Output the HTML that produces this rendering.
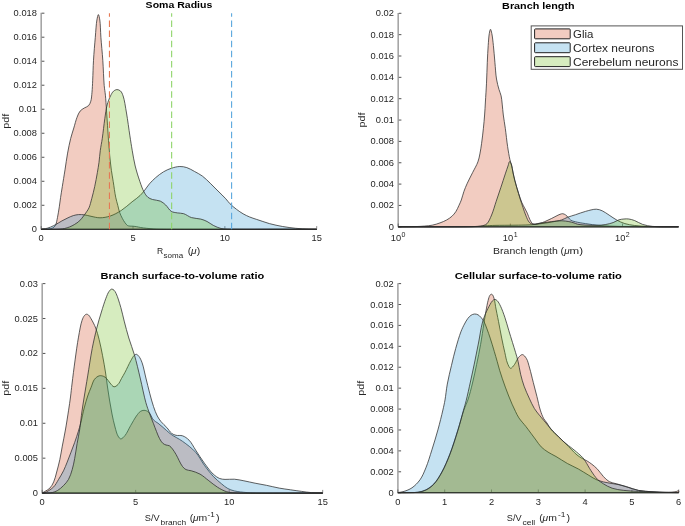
<!DOCTYPE html>
<html><head><meta charset="utf-8"><style>
html,body{margin:0;padding:0;background:#fff;}
svg{display:block;will-change:transform;}
text{font-family:"Liberation Sans", sans-serif;}
</style></head><body>
<svg width="685" height="526" viewBox="0 0 685 526">
<rect x="0" y="0" width="685" height="526" fill="#fff"/>
<path d="M41.20,12.80 L41.20,229.80" fill="none" stroke="#a6a6a6" stroke-width="1.6"/>
<path d="M41.20,229.30 L316.70,229.30" fill="none" stroke="#a6a6a6" stroke-width="0.6"/>
<path d="M41.80,229.30 h2.6" stroke="#404040" stroke-width="0.9"/>
<path d="M41.80,205.29 h2.6" stroke="#404040" stroke-width="0.9"/>
<path d="M41.80,181.28 h2.6" stroke="#404040" stroke-width="0.9"/>
<path d="M41.80,157.27 h2.6" stroke="#404040" stroke-width="0.9"/>
<path d="M41.80,133.26 h2.6" stroke="#404040" stroke-width="0.9"/>
<path d="M41.80,109.24 h2.6" stroke="#404040" stroke-width="0.9"/>
<path d="M41.80,85.23 h2.6" stroke="#404040" stroke-width="0.9"/>
<path d="M41.80,61.22 h2.6" stroke="#404040" stroke-width="0.9"/>
<path d="M41.80,37.21 h2.6" stroke="#404040" stroke-width="0.9"/>
<path d="M41.80,13.20 h2.6" stroke="#404040" stroke-width="0.9"/>
<path d="M41.20,228.70 v-2.6" stroke="#404040" stroke-width="0.6"/>
<path d="M133.03,228.70 v-2.6" stroke="#404040" stroke-width="0.6"/>
<path d="M224.87,228.70 v-2.6" stroke="#404040" stroke-width="0.6"/>
<path d="M316.70,228.70 v-2.6" stroke="#404040" stroke-width="0.6"/>
<path d="M398.20,12.90 L398.20,227.30" fill="none" stroke="#a6a6a6" stroke-width="1.6"/>
<path d="M398.20,226.80 L678.50,226.80" fill="none" stroke="#a6a6a6" stroke-width="0.6"/>
<path d="M398.80,226.80 h2.6" stroke="#404040" stroke-width="0.9"/>
<path d="M398.80,205.45 h2.6" stroke="#404040" stroke-width="0.9"/>
<path d="M398.80,184.10 h2.6" stroke="#404040" stroke-width="0.9"/>
<path d="M398.80,162.75 h2.6" stroke="#404040" stroke-width="0.9"/>
<path d="M398.80,141.40 h2.6" stroke="#404040" stroke-width="0.9"/>
<path d="M398.80,120.05 h2.6" stroke="#404040" stroke-width="0.9"/>
<path d="M398.80,98.70 h2.6" stroke="#404040" stroke-width="0.9"/>
<path d="M398.80,77.35 h2.6" stroke="#404040" stroke-width="0.9"/>
<path d="M398.80,56.00 h2.6" stroke="#404040" stroke-width="0.9"/>
<path d="M398.80,34.65 h2.6" stroke="#404040" stroke-width="0.9"/>
<path d="M398.80,13.30 h2.6" stroke="#404040" stroke-width="0.9"/>
<path d="M398.20,226.20 v-2.6" stroke="#404040" stroke-width="0.6"/>
<path d="M510.35,226.20 v-2.6" stroke="#404040" stroke-width="0.6"/>
<path d="M622.50,226.20 v-2.6" stroke="#404040" stroke-width="0.6"/>
<path d="M42.20,283.20 L42.20,493.60" fill="none" stroke="#a6a6a6" stroke-width="1.6"/>
<path d="M42.20,493.10 L322.70,493.10" fill="none" stroke="#a6a6a6" stroke-width="0.6"/>
<path d="M42.80,493.10 h2.6" stroke="#404040" stroke-width="0.9"/>
<path d="M42.80,458.18 h2.6" stroke="#404040" stroke-width="0.9"/>
<path d="M42.80,423.27 h2.6" stroke="#404040" stroke-width="0.9"/>
<path d="M42.80,388.35 h2.6" stroke="#404040" stroke-width="0.9"/>
<path d="M42.80,353.43 h2.6" stroke="#404040" stroke-width="0.9"/>
<path d="M42.80,318.52 h2.6" stroke="#404040" stroke-width="0.9"/>
<path d="M42.80,283.60 h2.6" stroke="#404040" stroke-width="0.9"/>
<path d="M42.20,492.50 v-2.6" stroke="#404040" stroke-width="0.6"/>
<path d="M135.70,492.50 v-2.6" stroke="#404040" stroke-width="0.6"/>
<path d="M229.20,492.50 v-2.6" stroke="#404040" stroke-width="0.6"/>
<path d="M322.70,492.50 v-2.6" stroke="#404040" stroke-width="0.6"/>
<path d="M397.90,283.20 L397.90,493.20" fill="none" stroke="#a6a6a6" stroke-width="1.6"/>
<path d="M397.90,492.70 L678.70,492.70" fill="none" stroke="#a6a6a6" stroke-width="0.6"/>
<path d="M398.50,492.70 h2.6" stroke="#404040" stroke-width="0.9"/>
<path d="M398.50,471.79 h2.6" stroke="#404040" stroke-width="0.9"/>
<path d="M398.50,450.88 h2.6" stroke="#404040" stroke-width="0.9"/>
<path d="M398.50,429.97 h2.6" stroke="#404040" stroke-width="0.9"/>
<path d="M398.50,409.06 h2.6" stroke="#404040" stroke-width="0.9"/>
<path d="M398.50,388.15 h2.6" stroke="#404040" stroke-width="0.9"/>
<path d="M398.50,367.24 h2.6" stroke="#404040" stroke-width="0.9"/>
<path d="M398.50,346.33 h2.6" stroke="#404040" stroke-width="0.9"/>
<path d="M398.50,325.42 h2.6" stroke="#404040" stroke-width="0.9"/>
<path d="M398.50,304.51 h2.6" stroke="#404040" stroke-width="0.9"/>
<path d="M398.50,283.60 h2.6" stroke="#404040" stroke-width="0.9"/>
<path d="M397.90,492.10 v-2.6" stroke="#404040" stroke-width="0.6"/>
<path d="M444.70,492.10 v-2.6" stroke="#404040" stroke-width="0.6"/>
<path d="M491.50,492.10 v-2.6" stroke="#404040" stroke-width="0.6"/>
<path d="M538.30,492.10 v-2.6" stroke="#404040" stroke-width="0.6"/>
<path d="M585.10,492.10 v-2.6" stroke="#404040" stroke-width="0.6"/>
<path d="M631.90,492.10 v-2.6" stroke="#404040" stroke-width="0.6"/>
<path d="M678.70,492.10 v-2.6" stroke="#404040" stroke-width="0.6"/>
<path d="M41.20,229.30 C42.57,229.27 43.85,229.29 45.30,229.20 C46.93,229.10 48.97,229.11 50.50,228.70 C51.81,228.35 53.10,227.86 54.00,227.10 C54.82,226.42 55.29,225.64 55.80,224.50 C56.57,222.77 56.97,220.01 57.50,217.40 C58.15,214.23 58.77,210.23 59.30,206.80 C59.80,203.58 60.12,200.64 60.60,197.40 C61.11,193.92 61.66,190.59 62.30,186.60 C63.09,181.64 64.12,175.48 65.00,169.90 C65.88,164.31 66.61,158.50 67.60,153.10 C68.53,148.02 69.57,142.86 70.70,138.40 C71.66,134.61 72.76,131.48 73.80,128.00 C74.86,124.48 75.80,120.43 77.00,117.40 C77.95,114.98 78.75,112.72 80.10,111.10 C81.26,109.71 82.87,108.91 84.30,108.00 C85.67,107.12 87.42,106.81 88.50,105.70 C89.61,104.56 90.23,103.02 90.80,101.20 C91.56,98.77 91.69,95.42 92.00,92.20 C92.35,88.49 92.48,84.70 92.70,80.20 C92.99,74.40 93.09,67.17 93.50,60.30 C93.94,52.91 94.69,44.42 95.30,37.30 C95.83,31.12 96.15,24.11 96.90,20.00 C97.33,17.67 97.92,14.60 98.40,14.60 C98.88,14.60 99.43,17.67 99.80,20.00 C100.46,24.11 100.45,31.13 100.90,37.30 C101.42,44.42 102.26,52.45 102.80,60.30 C103.37,68.50 103.62,79.08 104.20,85.50 C104.56,89.50 105.05,91.61 105.40,95.20 C105.84,99.65 106.15,105.19 106.50,110.20 C106.85,115.22 107.17,120.28 107.50,125.30 C107.83,130.31 108.13,135.30 108.50,140.30 C108.87,145.30 109.22,150.30 109.70,155.30 C110.18,160.33 110.76,165.77 111.40,170.40 C111.95,174.36 112.56,177.40 113.20,181.40 C113.97,186.19 114.79,192.81 115.70,197.20 C116.36,200.40 117.12,202.79 117.80,205.40 C118.42,207.80 118.83,210.11 119.60,212.30 C120.34,214.40 121.35,216.49 122.30,218.30 C123.13,219.88 123.97,221.35 124.90,222.60 C125.72,223.70 126.55,224.93 127.50,225.50 C128.28,225.96 129.12,225.98 130.00,226.10 C130.95,226.23 131.98,226.12 133.00,226.20 C134.08,226.28 135.13,226.41 136.30,226.60 C137.64,226.82 139.03,227.23 140.60,227.50 C142.47,227.82 144.67,228.06 146.80,228.30 C149.06,228.56 151.54,228.83 153.80,229.00 C155.93,229.16 156.55,229.22 160.00,229.30 C177.33,229.72 264.47,229.30 316.70,229.30 L316.70,229.30 L41.20,229.30 Z" fill="rgba(208,76,37,0.287)" stroke="#2b2b2b" stroke-width="0.75" stroke-linejoin="round"/>
<path d="M41.20,229.30 C42.57,229.10 43.87,229.02 45.30,228.70 C46.94,228.33 48.78,227.78 50.50,227.10 C52.29,226.39 53.99,225.48 55.80,224.50 C57.78,223.43 59.85,222.03 61.90,220.90 C63.92,219.79 66.02,218.71 68.00,217.80 C69.81,216.96 71.51,216.14 73.30,215.60 C75.02,215.08 76.68,214.73 78.50,214.60 C80.47,214.46 82.64,214.62 84.70,214.90 C86.80,215.18 88.71,215.85 91.00,216.30 C93.73,216.83 96.90,217.81 100.00,217.80 C103.32,217.79 106.90,217.13 110.30,216.00 C113.97,214.78 117.68,212.76 121.20,210.50 C124.96,208.09 128.75,204.45 132.10,201.80 C134.94,199.55 137.79,197.70 140.00,195.60 C141.87,193.83 143.17,192.10 144.70,190.20 C146.31,188.21 147.64,185.93 149.40,183.90 C151.26,181.76 153.34,179.65 155.60,177.70 C157.98,175.64 160.71,173.49 163.40,171.90 C165.92,170.40 168.48,169.20 171.20,168.30 C173.95,167.39 177.07,166.57 179.80,166.50 C182.25,166.44 184.46,166.85 186.80,167.60 C189.39,168.43 192.02,170.10 194.60,171.50 C197.22,172.93 199.89,174.25 202.40,176.10 C205.11,178.10 207.63,180.75 210.20,183.20 C212.83,185.71 215.40,188.40 218.00,191.00 C220.60,193.60 223.64,196.45 225.80,198.80 C227.46,200.61 228.36,202.15 230.00,203.80 C231.89,205.69 234.36,207.70 236.60,209.40 C238.73,211.02 240.88,212.52 243.10,213.80 C245.25,215.04 247.47,216.08 249.70,217.00 C251.87,217.90 254.10,218.55 256.30,219.30 C258.50,220.05 260.71,220.78 262.90,221.50 C265.07,222.21 267.21,222.98 269.40,223.60 C271.58,224.22 273.79,224.72 276.00,225.20 C278.19,225.68 280.40,226.12 282.60,226.50 C284.77,226.88 286.92,227.20 289.10,227.50 C291.29,227.80 293.50,228.08 295.70,228.30 C297.90,228.52 300.11,228.67 302.30,228.80 C304.47,228.93 306.53,229.03 308.80,229.10 C311.30,229.17 314.07,229.17 316.70,229.20 L316.70,229.30 L41.20,229.30 Z" fill="rgba(29,140,205,0.254)" stroke="#2b2b2b" stroke-width="0.75" stroke-linejoin="round"/>
<path d="M41.20,229.30 C44.13,229.30 47.35,229.30 50.00,229.30 C52.19,229.30 54.20,229.34 56.00,229.30 C57.47,229.26 58.63,229.23 60.00,229.10 C61.46,228.97 62.96,228.84 64.50,228.50 C66.19,228.13 68.05,227.56 69.70,226.90 C71.31,226.26 72.84,225.43 74.30,224.60 C75.70,223.80 77.09,222.99 78.30,222.00 C79.49,221.02 80.51,219.85 81.50,218.70 C82.47,217.58 83.34,216.37 84.20,215.20 C85.04,214.07 85.82,212.99 86.60,211.80 C87.42,210.54 88.26,209.47 89.00,207.80 C90.07,205.38 90.90,201.72 91.80,198.40 C92.80,194.70 93.80,190.73 94.70,186.60 C95.68,182.10 96.64,176.74 97.40,172.40 C98.04,168.75 98.53,165.82 99.00,162.30 C99.51,158.48 99.75,154.29 100.30,150.30 C100.85,146.29 101.64,142.80 102.30,138.30 C103.14,132.57 103.92,124.64 104.80,118.70 C105.54,113.72 106.01,109.06 107.10,105.00 C108.01,101.61 109.26,98.38 110.50,95.90 C111.44,94.02 112.28,92.26 113.50,91.20 C114.51,90.32 115.83,89.63 117.00,89.60 C118.16,89.57 119.54,90.14 120.50,91.00 C121.67,92.05 122.32,93.70 123.10,95.90 C124.49,99.81 125.44,106.87 126.50,113.00 C127.73,120.06 128.86,129.15 129.90,135.90 C130.73,141.26 131.34,145.40 132.20,150.30 C133.10,155.43 133.93,160.81 135.20,166.00 C136.49,171.24 138.30,176.99 139.90,181.60 C141.21,185.36 142.39,188.91 143.90,191.70 C145.09,193.89 146.25,195.88 147.80,197.20 C149.17,198.36 150.69,198.88 152.50,199.50 C154.73,200.26 158.03,200.10 160.30,201.10 C162.38,202.01 163.98,203.43 165.70,205.00 C167.63,206.76 169.08,209.99 171.20,211.30 C173.05,212.44 175.31,212.50 177.40,212.90 C179.48,213.30 181.55,213.05 183.70,213.70 C186.22,214.47 188.71,216.70 191.50,217.60 C194.40,218.53 198.03,218.36 200.80,219.10 C203.14,219.73 205.06,220.48 207.10,221.50 C209.23,222.56 211.06,224.26 213.30,225.40 C215.70,226.62 218.60,227.90 221.10,228.50 C223.27,229.02 224.94,228.96 227.40,229.10 C230.88,229.29 234.02,229.25 240.00,229.30 C254.75,229.42 291.13,229.30 316.70,229.30 L316.70,229.30 L41.20,229.30 Z" fill="rgba(90,179,0,0.251)" stroke="#2b2b2b" stroke-width="0.75" stroke-linejoin="round"/>
<path d="M109.45,229.30 L109.45,13.20" stroke="#e57a55" stroke-width="1.1" stroke-dasharray="6.5 3.62" fill="none"/>
<path d="M171.65,229.30 L171.65,13.20" stroke="#8fd46a" stroke-width="1.1" stroke-dasharray="6.5 3.62" fill="none"/>
<path d="M231.60,229.30 L231.60,13.20" stroke="#5aa8de" stroke-width="1.1" stroke-dasharray="6.5 3.62" fill="none"/>
<text transform="translate(36.90,232.34) scale(1.0827,1)" font-size="8.60" text-anchor="end" fill="#262626">0</text>
<text transform="translate(36.90,208.33) scale(1.0827,1)" font-size="8.60" text-anchor="end" fill="#262626">0.002</text>
<text transform="translate(36.90,184.32) scale(1.0827,1)" font-size="8.60" text-anchor="end" fill="#262626">0.004</text>
<text transform="translate(36.90,160.31) scale(1.0827,1)" font-size="8.60" text-anchor="end" fill="#262626">0.006</text>
<text transform="translate(36.90,136.30) scale(1.0827,1)" font-size="8.60" text-anchor="end" fill="#262626">0.008</text>
<text transform="translate(36.90,112.29) scale(1.0827,1)" font-size="8.60" text-anchor="end" fill="#262626">0.01</text>
<text transform="translate(36.90,88.28) scale(1.0827,1)" font-size="8.60" text-anchor="end" fill="#262626">0.012</text>
<text transform="translate(36.90,64.27) scale(1.0827,1)" font-size="8.60" text-anchor="end" fill="#262626">0.014</text>
<text transform="translate(36.90,40.26) scale(1.0827,1)" font-size="8.60" text-anchor="end" fill="#262626">0.016</text>
<text transform="translate(36.90,16.24) scale(1.0827,1)" font-size="8.60" text-anchor="end" fill="#262626">0.018</text>
<text transform="translate(41.20,241.30) scale(1.0827,1)" font-size="8.60" text-anchor="middle" fill="#262626">0</text>
<text transform="translate(133.03,241.30) scale(1.0827,1)" font-size="8.60" text-anchor="middle" fill="#262626">5</text>
<text transform="translate(224.87,241.30) scale(1.0827,1)" font-size="8.60" text-anchor="middle" fill="#262626">10</text>
<text transform="translate(316.70,241.30) scale(1.0827,1)" font-size="8.60" text-anchor="middle" fill="#262626">15</text>
<text transform="translate(178.95,8.40)" font-size="9.80" text-anchor="middle" font-weight="bold" fill="#000" textLength="66.70" lengthAdjust="spacingAndGlyphs">Soma Radius</text>
<text transform="translate(8.90,121.25) rotate(-90)" font-size="9.60" text-anchor="middle" fill="#262626" textLength="15.00" lengthAdjust="spacingAndGlyphs">pdf</text>
<text transform="translate(157.00,253.60)" font-size="9.60" text-anchor="start" fill="#262626" textLength="6.20" lengthAdjust="spacingAndGlyphs">R</text>
<text transform="translate(163.60,257.90)" font-size="7.80" text-anchor="start" fill="#262626" textLength="19.60" lengthAdjust="spacingAndGlyphs">soma</text>
<text transform="translate(187.80,253.60)" font-size="9.60" text-anchor="start" fill="#262626" textLength="3.50" lengthAdjust="spacingAndGlyphs">(</text>
<text transform="translate(191.00,253.60)" font-size="9.60" text-anchor="start" font-style="italic" fill="#262626" textLength="5.60" lengthAdjust="spacingAndGlyphs">μ</text>
<text transform="translate(196.70,253.60)" font-size="9.60" text-anchor="start" fill="#262626" textLength="3.50" lengthAdjust="spacingAndGlyphs">)</text>
<path d="M398.20,226.80 C403.80,226.73 410.22,226.76 415.00,226.60 C418.56,226.48 421.33,226.35 424.30,226.10 C427.04,225.87 429.60,225.73 432.20,225.20 C434.83,224.67 437.54,223.80 440.00,222.90 C442.32,222.05 444.57,221.14 446.60,220.00 C448.52,218.92 450.35,217.71 451.90,216.30 C453.40,214.93 454.66,213.42 455.80,211.70 C457.02,209.85 457.96,207.52 458.90,205.50 C459.78,203.62 460.54,202.06 461.30,200.00 C462.23,197.50 462.90,194.29 463.90,191.50 C464.90,188.69 465.98,186.11 467.30,183.20 C468.82,179.86 470.84,176.14 472.60,172.60 C474.37,169.04 476.66,165.27 477.90,161.90 C478.93,159.10 479.31,156.77 479.90,153.90 C480.57,150.63 481.06,147.15 481.60,143.30 C482.24,138.74 482.89,133.15 483.40,128.30 C483.88,123.74 484.27,119.41 484.60,115.00 C484.93,110.64 485.12,106.73 485.40,102.00 C485.74,96.31 486.19,89.63 486.50,83.20 C486.83,76.42 487.00,68.88 487.30,62.30 C487.57,56.42 487.83,50.72 488.20,45.60 C488.52,41.24 488.75,36.47 489.30,33.50 C489.63,31.72 490.08,29.30 490.50,29.30 C490.92,29.30 491.41,31.72 491.80,33.50 C492.45,36.47 492.92,41.24 493.40,45.60 C493.97,50.71 494.38,56.73 494.90,62.30 C495.42,67.87 495.69,74.10 496.50,79.00 C497.15,82.93 498.13,86.46 499.00,89.50 C499.68,91.88 500.58,93.53 501.10,95.80 C501.69,98.35 501.85,101.14 502.20,104.10 C502.59,107.48 502.82,111.19 503.30,115.00 C503.83,119.22 504.64,123.52 505.30,128.30 C506.07,133.89 506.76,140.95 507.60,146.50 C508.31,151.21 509.11,156.10 509.90,159.50 C510.42,161.74 510.93,162.70 511.50,165.00 C512.43,168.76 513.38,175.18 514.60,180.00 C515.76,184.59 517.30,189.29 518.60,193.30 C519.69,196.66 520.67,199.87 521.80,202.50 C522.69,204.58 523.68,206.11 524.60,207.90 C525.51,209.67 526.44,211.31 527.30,213.20 C528.25,215.28 528.99,218.04 530.00,219.90 C530.80,221.37 531.57,222.94 532.60,223.60 C533.40,224.11 534.33,224.11 535.30,224.10 C536.44,224.08 537.78,223.57 539.00,223.30 C540.18,223.04 541.28,222.89 542.50,222.50 C543.93,222.04 545.52,221.26 547.00,220.60 C548.46,219.95 549.84,219.31 551.30,218.60 C552.84,217.85 554.49,216.94 556.00,216.20 C557.38,215.52 558.78,214.72 560.00,214.30 C560.97,213.97 561.80,213.62 562.70,213.70 C563.66,213.78 564.69,214.31 565.60,214.90 C566.61,215.56 567.52,216.70 568.40,217.60 C569.24,218.46 569.75,219.52 570.80,220.20 C572.05,221.01 573.69,221.31 575.60,221.80 C578.29,222.49 581.88,223.03 585.50,223.60 C589.87,224.28 594.77,225.04 600.00,225.50 C606.12,226.04 613.33,226.18 620.00,226.40 C626.67,226.62 632.25,226.72 640.00,226.80 C650.75,226.91 665.67,226.80 678.50,226.80 L678.50,226.80 L398.20,226.80 Z" fill="rgba(208,76,37,0.287)" stroke="#2b2b2b" stroke-width="0.75" stroke-linejoin="round"/>
<path d="M398.20,226.80 C418.80,226.80 446.40,226.94 460.00,226.80 C466.70,226.73 470.51,226.70 475.00,226.50 C478.67,226.33 481.67,225.98 485.00,225.80 C488.33,225.62 491.09,225.50 495.00,225.40 C500.52,225.26 509.05,225.30 515.00,225.20 C519.80,225.12 524.33,225.07 528.00,224.90 C530.69,224.77 532.59,224.64 535.00,224.40 C537.58,224.15 540.34,223.77 543.00,223.40 C545.67,223.03 548.53,222.63 551.00,222.20 C553.15,221.82 555.11,221.40 557.00,221.00 C558.69,220.64 560.16,220.46 561.80,219.90 C563.65,219.27 565.41,218.11 567.50,217.30 C569.94,216.36 572.77,215.63 575.60,214.70 C578.74,213.67 582.10,212.31 585.50,211.40 C588.99,210.47 593.25,209.10 596.30,209.20 C598.57,209.27 600.22,209.94 602.20,210.80 C604.48,211.80 606.73,213.60 609.10,215.10 C611.65,216.72 614.31,218.76 617.00,220.20 C619.58,221.57 622.07,222.73 624.90,223.60 C627.94,224.54 631.14,225.03 634.70,225.50 C638.89,226.06 644.11,226.28 648.50,226.50 C652.51,226.70 655.71,226.74 660.00,226.80 C665.44,226.87 672.33,226.80 678.50,226.80 L678.50,226.80 L398.20,226.80 Z" fill="rgba(29,140,205,0.254)" stroke="#2b2b2b" stroke-width="0.75" stroke-linejoin="round"/>
<path d="M398.20,226.80 C418.80,226.80 447.05,226.85 460.00,226.80 C465.94,226.78 469.30,226.82 473.00,226.70 C475.75,226.61 478.19,226.62 480.20,226.30 C481.68,226.07 482.82,225.77 484.00,225.30 C485.12,224.86 486.11,224.60 487.10,223.60 C488.73,221.94 490.21,218.26 491.60,215.00 C493.30,211.02 494.67,205.87 496.20,201.30 C497.73,196.73 499.28,192.17 500.80,187.60 C502.32,183.04 503.98,177.84 505.30,173.90 C506.30,170.90 507.21,168.25 508.00,166.00 C508.59,164.32 508.98,161.67 509.60,161.60 C510.08,161.54 510.72,162.87 511.20,164.00 C512.09,166.13 512.47,170.34 513.30,173.90 C514.28,178.11 515.60,183.25 516.80,187.60 C517.90,191.59 519.10,195.49 520.20,199.00 C521.16,202.05 522.03,204.68 523.00,207.50 C523.97,210.31 524.88,213.32 526.00,215.90 C527.00,218.21 527.92,220.88 529.30,222.30 C530.34,223.37 531.37,224.02 532.90,224.30 C535.19,224.72 538.95,223.45 542.00,223.00 C545.08,222.55 548.10,221.96 551.30,221.60 C554.69,221.22 558.66,220.74 561.80,220.80 C564.37,220.85 566.65,221.21 568.80,221.60 C570.67,221.94 572.45,222.42 574.00,222.90 C575.29,223.30 576.09,223.86 577.50,224.20 C579.51,224.69 582.20,224.91 585.00,225.10 C588.53,225.34 593.38,225.42 597.00,225.30 C600.00,225.20 602.51,225.05 605.20,224.60 C607.88,224.15 610.70,223.47 613.10,222.60 C615.25,221.83 617.07,220.40 619.00,219.80 C620.70,219.27 622.35,219.13 624.00,219.00 C625.61,218.87 627.13,218.78 628.80,219.00 C630.68,219.25 632.63,219.83 634.70,220.60 C637.18,221.52 639.75,223.44 642.60,224.40 C645.65,225.43 648.99,225.99 652.50,226.40 C656.41,226.85 660.75,226.73 665.00,226.80 C669.41,226.87 674.00,226.80 678.50,226.80 L678.50,226.80 L398.20,226.80 Z" fill="rgba(90,179,0,0.251)" stroke="#2b2b2b" stroke-width="0.75" stroke-linejoin="round"/>
<text transform="translate(393.90,229.84) scale(1.0827,1)" font-size="8.60" text-anchor="end" fill="#262626">0</text>
<text transform="translate(393.90,208.49) scale(1.0827,1)" font-size="8.60" text-anchor="end" fill="#262626">0.002</text>
<text transform="translate(393.90,187.14) scale(1.0827,1)" font-size="8.60" text-anchor="end" fill="#262626">0.004</text>
<text transform="translate(393.90,165.79) scale(1.0827,1)" font-size="8.60" text-anchor="end" fill="#262626">0.006</text>
<text transform="translate(393.90,144.44) scale(1.0827,1)" font-size="8.60" text-anchor="end" fill="#262626">0.008</text>
<text transform="translate(393.90,123.09) scale(1.0827,1)" font-size="8.60" text-anchor="end" fill="#262626">0.01</text>
<text transform="translate(393.90,101.74) scale(1.0827,1)" font-size="8.60" text-anchor="end" fill="#262626">0.012</text>
<text transform="translate(393.90,80.39) scale(1.0827,1)" font-size="8.60" text-anchor="end" fill="#262626">0.014</text>
<text transform="translate(393.90,59.04) scale(1.0827,1)" font-size="8.60" text-anchor="end" fill="#262626">0.016</text>
<text transform="translate(393.90,37.69) scale(1.0827,1)" font-size="8.60" text-anchor="end" fill="#262626">0.018</text>
<text transform="translate(393.90,16.34) scale(1.0827,1)" font-size="8.60" text-anchor="end" fill="#262626">0.02</text>
<text transform="translate(538.35,8.50)" font-size="9.80" text-anchor="middle" font-weight="bold" fill="#000" textLength="72.50" lengthAdjust="spacingAndGlyphs">Branch length</text>
<text transform="translate(364.70,120.05) rotate(-90)" font-size="9.60" text-anchor="middle" fill="#262626" textLength="15.00" lengthAdjust="spacingAndGlyphs">pdf</text>
<text transform="translate(395.90,241.00) scale(1.0827,1)" font-size="8.60" text-anchor="middle" fill="#262626">10</text>
<text transform="translate(403.50,237.00) scale(1.0827,1)" font-size="6.50" text-anchor="middle" fill="#262626">0</text>
<text transform="translate(508.05,241.00) scale(1.0827,1)" font-size="8.60" text-anchor="middle" fill="#262626">10</text>
<text transform="translate(515.65,237.00) scale(1.0827,1)" font-size="6.50" text-anchor="middle" fill="#262626">1</text>
<text transform="translate(620.20,241.00) scale(1.0827,1)" font-size="8.60" text-anchor="middle" fill="#262626">10</text>
<text transform="translate(627.80,237.00) scale(1.0827,1)" font-size="6.50" text-anchor="middle" fill="#262626">2</text>
<text transform="translate(493.10,253.80)" font-size="9.60" text-anchor="start" fill="#262626" textLength="71.00" lengthAdjust="spacingAndGlyphs">Branch length (</text>
<text transform="translate(564.30,253.80)" font-size="9.60" text-anchor="start" font-style="italic" fill="#262626" textLength="5.40" lengthAdjust="spacingAndGlyphs">μ</text>
<text transform="translate(569.60,253.80)" font-size="9.60" text-anchor="start" fill="#262626" textLength="13.50" lengthAdjust="spacingAndGlyphs">m)</text>
<rect x="531.2" y="25.9" width="151.3" height="43.4" fill="#fff" stroke="#555" stroke-width="1"/>
<rect x="534.6" y="28.90" width="35.6" height="9.9" rx="0.8" fill="rgba(208,76,37,0.287)" stroke="#222" stroke-width="1"/>
<text transform="translate(573.00,38.00)" font-size="11.20" text-anchor="start" fill="#262626" textLength="20.40" lengthAdjust="spacingAndGlyphs">Glia</text>
<rect x="534.6" y="42.80" width="35.6" height="9.9" rx="0.8" fill="rgba(29,140,205,0.254)" stroke="#222" stroke-width="1"/>
<text transform="translate(573.00,51.90)" font-size="11.20" text-anchor="start" fill="#262626" textLength="81.40" lengthAdjust="spacingAndGlyphs">Cortex neurons</text>
<rect x="534.6" y="56.70" width="35.6" height="9.9" rx="0.8" fill="rgba(90,179,0,0.251)" stroke="#222" stroke-width="1"/>
<text transform="translate(573.00,65.80)" font-size="11.20" text-anchor="start" fill="#262626" textLength="105.40" lengthAdjust="spacingAndGlyphs">Cerebelum neurons</text>
<path d="M42.20,493.00 C43.13,492.47 43.95,492.05 45.00,491.40 C46.42,490.52 48.50,489.56 49.90,488.10 C51.45,486.48 52.63,484.29 53.70,481.90 C54.98,479.05 55.73,475.49 56.70,472.00 C57.77,468.13 58.88,463.92 59.80,459.70 C60.76,455.30 61.41,450.82 62.30,446.10 C63.27,440.96 64.40,435.65 65.40,430.00 C66.51,423.75 67.69,416.14 68.60,410.20 C69.34,405.36 69.93,401.39 70.50,397.00 C71.06,392.65 71.39,388.99 72.00,384.00 C72.83,377.19 74.00,367.82 75.10,359.90 C76.17,352.19 77.24,344.08 78.50,337.10 C79.58,331.11 80.65,324.36 82.00,320.50 C82.77,318.28 83.55,316.56 84.50,315.50 C85.12,314.81 85.82,314.27 86.50,314.20 C87.15,314.14 87.86,314.49 88.50,315.00 C89.43,315.75 90.17,317.22 91.10,318.80 C92.49,321.16 94.40,324.71 95.70,328.00 C97.10,331.54 98.04,335.26 99.10,339.40 C100.34,344.24 101.44,349.85 102.50,355.30 C103.61,361.03 104.74,367.44 105.60,373.00 C106.37,377.93 106.84,382.42 107.50,387.00 C108.14,391.42 108.77,395.59 109.50,400.00 C110.26,404.58 111.07,409.43 112.00,414.00 C112.91,418.43 113.90,423.09 115.00,427.00 C115.93,430.30 116.74,433.92 118.00,436.00 C118.82,437.36 119.74,438.83 120.80,438.90 C122.03,438.98 123.64,437.10 125.00,435.50 C126.99,433.16 128.78,428.78 130.70,425.50 C132.58,422.28 134.57,418.52 136.40,416.00 C137.74,414.15 138.88,412.44 140.30,411.50 C141.45,410.74 142.69,410.26 144.00,410.30 C145.50,410.35 147.38,411.00 148.80,412.20 C150.69,413.80 151.73,418.09 153.50,420.00 C154.88,421.49 156.56,422.10 158.00,423.20 C159.39,424.27 160.64,425.33 162.00,426.50 C163.47,427.76 164.94,429.17 166.50,430.50 C168.13,431.90 169.52,433.22 171.60,434.70 C174.49,436.75 178.80,438.66 182.50,441.30 C186.78,444.35 191.91,448.11 195.60,452.20 C199.16,456.14 201.38,461.18 204.40,465.30 C207.25,469.19 210.19,473.10 213.20,476.30 C215.87,479.13 218.79,481.55 221.40,483.70 C223.62,485.53 225.57,487.28 227.80,488.50 C229.88,489.63 231.73,490.26 234.30,490.90 C237.81,491.77 242.82,492.25 247.10,492.60 C251.38,492.95 254.08,492.90 260.00,493.00 C273.04,493.21 301.80,493.07 322.70,493.10 L322.70,493.10 L42.20,493.10 Z" fill="rgba(208,76,37,0.287)" stroke="#2b2b2b" stroke-width="0.75" stroke-linejoin="round"/>
<path d="M42.20,493.00 C43.13,492.87 44.03,492.92 45.00,492.60 C46.18,492.21 47.40,491.42 48.70,490.60 C50.28,489.60 52.17,488.52 53.70,486.90 C55.53,484.96 57.01,482.01 58.60,479.40 C60.28,476.66 62.05,473.72 63.50,470.80 C64.91,467.95 65.98,465.10 67.20,462.10 C68.49,458.92 69.75,455.49 71.00,452.20 C72.25,448.93 73.50,445.79 74.70,442.40 C75.97,438.80 77.35,434.59 78.40,431.20 C79.26,428.40 79.82,426.52 80.60,423.50 C81.70,419.24 82.94,412.82 84.20,408.00 C85.32,403.73 86.46,399.65 87.70,396.00 C88.78,392.84 89.95,390.13 91.10,387.30 C92.21,384.57 92.93,381.28 94.50,379.30 C95.80,377.66 97.67,376.23 99.30,375.80 C100.68,375.44 102.26,375.82 103.50,376.30 C104.68,376.75 105.61,377.54 106.60,378.50 C107.80,379.67 108.76,381.61 110.00,383.00 C111.23,384.37 112.60,386.63 114.00,386.80 C115.28,386.95 116.84,385.65 118.00,384.50 C119.43,383.08 120.34,380.52 121.50,378.50 C122.67,376.45 123.72,374.70 125.00,372.30 C126.71,369.09 128.94,363.99 130.70,360.90 C131.97,358.66 133.11,356.35 134.30,355.30 C135.00,354.68 135.69,354.21 136.40,354.30 C137.26,354.41 138.19,355.47 139.00,356.50 C140.16,357.98 141.14,360.18 142.10,362.80 C143.53,366.71 144.63,372.93 145.90,378.00 C147.17,383.07 148.39,388.31 149.70,393.20 C150.93,397.79 152.12,402.47 153.50,406.50 C154.68,409.97 155.88,413.30 157.30,416.00 C158.46,418.21 159.60,419.86 161.10,421.70 C162.73,423.70 165.02,425.53 166.80,427.50 C168.51,429.40 169.87,431.98 171.60,433.30 C172.98,434.36 174.35,434.88 176.00,435.30 C177.92,435.79 180.42,435.08 182.50,435.80 C184.80,436.59 187.09,438.18 189.10,440.20 C191.55,442.65 193.27,446.49 195.60,450.00 C198.31,454.07 201.37,459.08 204.40,463.20 C207.25,467.08 210.29,471.42 213.20,474.10 C215.38,476.10 217.55,477.64 219.70,478.50 C221.48,479.21 222.98,479.25 225.00,479.40 C227.66,479.60 231.19,478.98 234.30,479.20 C237.49,479.43 240.58,480.17 243.90,480.80 C247.50,481.48 251.35,482.45 255.10,483.20 C258.85,483.95 262.52,484.52 266.40,485.30 C270.54,486.14 275.05,487.34 279.20,488.10 C283.07,488.81 286.74,489.25 290.50,489.80 C294.24,490.35 298.10,490.92 301.70,491.40 C305.05,491.85 308.04,492.35 311.40,492.60 C315.02,492.87 318.93,492.80 322.70,492.90 L322.70,493.10 L42.20,493.10 Z" fill="rgba(29,140,205,0.254)" stroke="#2b2b2b" stroke-width="0.75" stroke-linejoin="round"/>
<path d="M42.20,493.10 C44.13,493.07 46.20,493.12 48.00,493.00 C49.57,492.90 50.91,492.86 52.40,492.50 C54.04,492.10 55.73,491.57 57.40,490.60 C59.43,489.43 61.65,487.46 63.50,485.60 C65.36,483.73 67.11,481.83 68.50,479.40 C70.10,476.61 71.18,473.01 72.20,469.60 C73.27,466.03 73.93,462.41 74.70,458.40 C75.58,453.82 76.27,448.42 77.10,443.60 C77.90,438.97 78.84,434.92 79.60,430.00 C80.50,424.21 81.17,416.84 82.00,411.00 C82.71,405.97 83.37,402.14 84.20,397.00 C85.22,390.68 86.46,383.39 87.70,375.90 C89.11,367.36 90.56,356.95 92.20,348.50 C93.63,341.15 95.17,334.39 96.80,328.00 C98.25,322.31 99.83,317.11 101.40,312.00 C102.86,307.24 104.44,302.04 105.90,298.30 C106.95,295.61 107.83,293.11 109.00,291.50 C109.80,290.39 110.70,289.24 111.60,289.10 C112.38,288.98 113.30,289.58 114.00,290.20 C114.88,290.97 115.44,292.09 116.20,293.70 C117.63,296.71 119.46,302.81 120.80,307.40 C122.12,311.94 122.95,316.30 124.20,321.10 C125.59,326.45 127.10,332.36 128.80,338.00 C130.53,343.73 132.71,349.03 134.50,355.20 C136.54,362.23 138.33,370.24 140.20,378.00 C142.14,386.06 144.03,396.11 145.90,402.70 C147.18,407.20 148.39,410.30 149.70,413.90 C150.93,417.29 152.31,420.62 153.50,423.70 C154.56,426.45 155.48,428.98 156.50,431.50 C157.48,433.91 158.36,436.44 159.50,438.50 C160.49,440.31 161.56,442.19 162.80,443.30 C163.78,444.17 164.89,444.58 166.00,445.00 C167.09,445.41 168.37,445.22 169.40,445.80 C170.56,446.46 171.50,447.74 172.50,449.00 C173.71,450.52 174.70,452.21 176.00,454.40 C177.89,457.60 180.44,463.90 182.50,466.50 C183.70,468.02 184.61,468.89 186.00,469.60 C187.50,470.37 189.34,470.21 191.30,470.80 C193.87,471.57 197.20,472.56 200.00,474.10 C203.05,475.78 205.87,478.51 208.80,480.70 C211.71,482.88 214.51,485.35 217.50,487.20 C220.35,488.96 223.30,490.65 226.30,491.60 C229.14,492.50 230.57,492.57 235.00,492.90 C248.99,493.96 293.47,493.03 322.70,493.10 L322.70,493.10 L42.20,493.10 Z" fill="rgba(90,179,0,0.251)" stroke="#2b2b2b" stroke-width="0.75" stroke-linejoin="round"/>
<text transform="translate(37.90,496.14) scale(1.0827,1)" font-size="8.60" text-anchor="end" fill="#262626">0</text>
<text transform="translate(37.90,461.23) scale(1.0827,1)" font-size="8.60" text-anchor="end" fill="#262626">0.005</text>
<text transform="translate(37.90,426.31) scale(1.0827,1)" font-size="8.60" text-anchor="end" fill="#262626">0.01</text>
<text transform="translate(37.90,391.39) scale(1.0827,1)" font-size="8.60" text-anchor="end" fill="#262626">0.015</text>
<text transform="translate(37.90,356.48) scale(1.0827,1)" font-size="8.60" text-anchor="end" fill="#262626">0.02</text>
<text transform="translate(37.90,321.56) scale(1.0827,1)" font-size="8.60" text-anchor="end" fill="#262626">0.025</text>
<text transform="translate(37.90,286.64) scale(1.0827,1)" font-size="8.60" text-anchor="end" fill="#262626">0.03</text>
<text transform="translate(42.20,505.10) scale(1.0827,1)" font-size="8.60" text-anchor="middle" fill="#262626">0</text>
<text transform="translate(135.70,505.10) scale(1.0827,1)" font-size="8.60" text-anchor="middle" fill="#262626">5</text>
<text transform="translate(229.20,505.10) scale(1.0827,1)" font-size="8.60" text-anchor="middle" fill="#262626">10</text>
<text transform="translate(322.70,505.10) scale(1.0827,1)" font-size="8.60" text-anchor="middle" fill="#262626">15</text>
<text transform="translate(182.45,278.80)" font-size="9.80" text-anchor="middle" font-weight="bold" fill="#000" textLength="163.70" lengthAdjust="spacingAndGlyphs">Branch surface-to-volume ratio</text>
<text transform="translate(8.70,388.35) rotate(-90)" font-size="9.60" text-anchor="middle" fill="#262626" textLength="15.00" lengthAdjust="spacingAndGlyphs">pdf</text>
<text transform="translate(144.80,520.70)" font-size="9.60" text-anchor="start" fill="#262626" textLength="14.80" lengthAdjust="spacingAndGlyphs">S/V</text>
<text transform="translate(160.50,524.70)" font-size="7.80" text-anchor="start" fill="#262626" textLength="25.60" lengthAdjust="spacingAndGlyphs">branch</text>
<text transform="translate(189.70,520.70)" font-size="9.60" text-anchor="start" fill="#262626" textLength="3.50" lengthAdjust="spacingAndGlyphs">(</text>
<text transform="translate(193.00,520.70)" font-size="9.60" text-anchor="start" font-style="italic" fill="#262626" textLength="5.60" lengthAdjust="spacingAndGlyphs">μ</text>
<text transform="translate(198.60,520.70)" font-size="9.60" text-anchor="start" fill="#262626" textLength="8.70" lengthAdjust="spacingAndGlyphs">m</text>
<text transform="translate(207.60,517.20)" font-size="7.80" text-anchor="start" fill="#262626" textLength="7.30" lengthAdjust="spacingAndGlyphs">-1</text>
<text transform="translate(215.90,520.70)" font-size="9.60" text-anchor="start" fill="#262626" textLength="3.60" lengthAdjust="spacingAndGlyphs">)</text>
<path d="M397.90,492.70 C401.93,492.67 406.38,492.71 410.00,492.60 C412.94,492.51 415.37,492.66 418.00,492.20 C420.67,491.73 423.37,491.08 425.90,489.80 C428.69,488.39 431.44,486.40 433.90,483.80 C436.86,480.67 439.41,476.32 441.90,471.80 C444.80,466.53 447.38,460.37 449.90,453.90 C452.76,446.55 455.47,437.54 457.90,429.90 C460.10,422.97 461.96,415.62 463.90,410.00 C465.37,405.76 466.87,403.05 468.20,399.00 C469.78,394.20 471.14,388.54 472.50,383.00 C473.95,377.07 475.27,370.80 476.60,364.50 C477.98,357.95 479.39,351.18 480.60,344.40 C481.83,337.51 482.91,329.59 483.90,323.50 C484.67,318.77 485.26,314.89 486.00,310.90 C486.67,307.26 487.34,303.32 488.10,300.50 C488.64,298.51 489.10,296.58 489.80,295.50 C490.22,294.85 490.72,294.28 491.20,294.20 C491.62,294.13 492.14,294.45 492.50,294.80 C492.95,295.24 493.19,296.02 493.50,296.80 C493.91,297.83 494.28,299.10 494.60,300.50 C495.01,302.29 495.15,304.20 495.60,306.70 C496.29,310.56 497.52,316.34 498.50,321.40 C499.55,326.79 500.61,332.76 501.70,338.10 C502.71,343.06 503.78,348.00 504.80,352.40 C505.68,356.20 506.22,360.14 507.40,363.00 C508.29,365.15 509.37,368.14 510.60,368.30 C511.75,368.45 513.29,366.06 514.50,364.50 C515.97,362.60 516.97,359.22 518.50,357.50 C519.68,356.16 521.13,354.52 522.40,354.60 C523.76,354.69 525.30,356.75 526.40,358.50 C527.88,360.85 528.56,364.48 529.60,368.00 C530.87,372.30 532.07,377.72 533.30,382.50 C534.50,387.18 535.73,391.78 536.90,396.40 C538.06,400.98 539.01,406.11 540.30,410.10 C541.33,413.31 542.41,416.30 543.70,418.60 C544.70,420.39 545.89,421.36 547.00,423.00 C548.31,424.93 549.28,427.38 551.00,429.50 C553.03,432.00 556.27,434.46 558.70,436.80 C560.92,438.94 562.87,440.87 565.00,443.00 C567.23,445.23 569.68,447.78 571.80,449.90 C573.64,451.74 575.15,453.52 577.00,455.00 C578.79,456.43 580.90,457.65 582.70,458.70 C584.24,459.60 585.64,460.13 587.10,461.00 C588.64,461.92 590.12,462.88 591.70,464.10 C593.57,465.54 595.64,467.26 597.50,469.20 C599.55,471.34 601.35,474.36 603.40,476.50 C605.26,478.44 607.01,480.38 609.20,481.60 C611.38,482.81 613.86,483.03 616.50,483.80 C619.61,484.71 623.19,485.65 626.70,486.70 C630.47,487.83 634.24,489.55 638.40,490.40 C642.95,491.33 648.37,491.48 653.00,491.80 C657.19,492.09 661.54,492.28 665.00,492.30 C667.65,492.32 669.99,492.25 672.00,492.10 C673.52,491.98 674.81,491.85 676.00,491.60 C677.00,491.39 678.29,490.50 678.70,490.80 C679.03,491.05 678.70,492.07 678.70,492.70 L678.70,492.70 L397.90,492.70 Z" fill="rgba(208,76,37,0.287)" stroke="#2b2b2b" stroke-width="0.75" stroke-linejoin="round"/>
<path d="M397.90,492.60 C399.93,492.20 401.87,492.08 404.00,491.40 C406.53,490.59 409.48,489.54 412.00,487.80 C414.86,485.83 417.74,482.95 420.00,479.80 C422.45,476.37 424.06,472.27 425.90,467.80 C428.08,462.49 429.95,456.05 431.90,449.90 C433.95,443.43 436.06,436.58 437.90,429.90 C439.72,423.28 441.63,415.51 442.90,410.00 C443.80,406.11 444.34,403.73 445.00,400.00 C445.83,395.32 446.29,389.60 447.30,384.10 C448.41,378.08 450.06,371.38 451.50,365.30 C452.86,359.53 454.14,354.07 455.70,348.50 C457.27,342.90 459.18,336.27 460.90,331.80 C462.11,328.66 463.26,326.34 464.50,324.00 C465.57,321.98 466.61,320.03 467.80,318.50 C468.80,317.22 469.82,316.06 471.00,315.30 C472.07,314.61 473.32,314.08 474.50,314.00 C475.66,313.92 476.96,314.27 478.00,314.80 C479.06,315.33 479.90,316.23 480.80,317.20 C481.88,318.36 482.96,319.72 483.90,321.40 C485.08,323.50 485.99,326.34 487.00,329.00 C488.09,331.88 489.10,334.76 490.20,338.10 C491.52,342.12 493.07,347.36 494.30,351.50 C495.36,355.07 496.29,358.28 497.20,361.50 C498.05,364.50 498.73,367.32 499.60,370.20 C500.47,373.08 501.44,375.96 502.40,378.80 C503.34,381.60 504.27,384.29 505.30,387.10 C506.37,390.02 507.55,393.10 508.70,396.00 C509.81,398.80 510.94,401.56 512.10,404.20 C513.21,406.72 514.34,409.16 515.50,411.50 C516.60,413.72 517.44,415.69 518.90,417.90 C520.70,420.62 523.70,423.71 525.80,426.40 C527.65,428.77 529.20,430.92 530.90,433.20 C532.60,435.49 534.28,437.82 536.00,440.10 C537.72,442.38 539.20,444.90 541.20,446.90 C543.20,448.90 545.58,450.52 548.00,452.10 C550.50,453.73 553.12,454.82 556.00,456.50 C559.49,458.53 563.59,461.38 567.40,463.50 C571.06,465.53 574.82,467.03 578.40,469.00 C581.96,470.96 585.47,473.36 588.80,475.30 C591.81,477.06 594.29,478.93 597.50,480.20 C601.03,481.60 605.56,482.36 609.20,483.10 C612.33,483.74 614.98,483.83 618.00,484.50 C621.30,485.23 624.80,486.42 628.20,487.40 C631.60,488.38 634.66,489.68 638.40,490.40 C642.79,491.25 648.37,491.46 653.00,491.80 C657.19,492.11 660.87,492.27 665.00,492.40 C669.41,492.54 674.13,492.53 678.70,492.60 L678.70,492.70 L397.90,492.70 Z" fill="rgba(29,140,205,0.254)" stroke="#2b2b2b" stroke-width="0.75" stroke-linejoin="round"/>
<path d="M397.90,492.70 C401.93,492.67 406.38,492.68 410.00,492.60 C412.94,492.53 415.37,492.71 418.00,492.30 C420.67,491.88 423.37,491.33 425.90,490.10 C428.69,488.74 431.44,486.77 433.90,484.20 C436.86,481.11 439.41,476.79 441.90,472.30 C444.81,467.05 447.38,460.87 449.90,454.40 C452.76,447.05 455.57,438.05 457.90,430.40 C460.01,423.48 461.87,416.00 463.40,410.50 C464.49,406.60 465.22,404.36 466.20,400.50 C467.52,395.29 469.01,388.29 470.40,382.00 C471.84,375.47 473.32,368.67 474.70,362.00 C476.08,355.34 477.42,348.58 478.70,342.00 C479.95,335.59 480.91,328.20 482.30,323.00 C483.30,319.25 484.31,316.58 485.60,313.50 C486.88,310.44 488.67,306.91 490.00,304.60 C490.90,303.03 491.57,301.69 492.50,300.80 C493.21,300.11 494.01,299.41 494.80,299.40 C495.61,299.39 496.51,300.03 497.30,300.80 C498.49,301.95 499.53,304.10 500.60,306.30 C502.05,309.27 503.48,313.36 504.80,317.20 C506.23,321.39 507.49,326.18 508.80,330.50 C510.05,334.61 511.33,338.70 512.50,342.50 C513.55,345.93 514.55,349.08 515.50,352.30 C516.42,355.41 517.30,358.17 518.10,361.50 C519.03,365.38 519.59,370.05 520.60,374.20 C521.59,378.28 522.68,382.25 524.10,386.20 C525.54,390.22 527.45,394.30 529.20,398.10 C530.85,401.68 532.45,405.40 534.30,408.40 C535.89,410.98 537.74,413.12 539.40,415.20 C540.87,417.04 542.27,418.59 543.70,420.30 C545.14,422.02 546.41,423.66 548.00,425.50 C549.88,427.68 551.99,430.08 554.30,432.50 C556.95,435.28 559.93,438.38 563.10,441.20 C566.47,444.19 570.61,447.05 574.00,449.90 C577.10,452.50 580.68,455.36 582.70,457.60 C584.00,459.04 584.45,459.90 585.50,461.50 C587.07,463.89 589.01,467.73 591.00,470.70 C593.01,473.69 595.21,477.11 597.50,479.40 C599.38,481.28 601.18,482.42 603.40,483.80 C605.96,485.39 608.90,487.11 612.10,488.20 C615.63,489.40 619.67,489.87 623.80,490.40 C628.38,490.99 633.06,491.11 638.40,491.40 C644.90,491.76 653.06,492.10 660.00,492.30 C666.46,492.49 672.47,492.50 678.70,492.60 L678.70,492.70 L397.90,492.70 Z" fill="rgba(90,179,0,0.251)" stroke="#2b2b2b" stroke-width="0.75" stroke-linejoin="round"/>
<text transform="translate(393.60,495.74) scale(1.0827,1)" font-size="8.60" text-anchor="end" fill="#262626">0</text>
<text transform="translate(393.60,474.83) scale(1.0827,1)" font-size="8.60" text-anchor="end" fill="#262626">0.002</text>
<text transform="translate(393.60,453.92) scale(1.0827,1)" font-size="8.60" text-anchor="end" fill="#262626">0.004</text>
<text transform="translate(393.60,433.01) scale(1.0827,1)" font-size="8.60" text-anchor="end" fill="#262626">0.006</text>
<text transform="translate(393.60,412.10) scale(1.0827,1)" font-size="8.60" text-anchor="end" fill="#262626">0.008</text>
<text transform="translate(393.60,391.19) scale(1.0827,1)" font-size="8.60" text-anchor="end" fill="#262626">0.01</text>
<text transform="translate(393.60,370.28) scale(1.0827,1)" font-size="8.60" text-anchor="end" fill="#262626">0.012</text>
<text transform="translate(393.60,349.37) scale(1.0827,1)" font-size="8.60" text-anchor="end" fill="#262626">0.014</text>
<text transform="translate(393.60,328.46) scale(1.0827,1)" font-size="8.60" text-anchor="end" fill="#262626">0.016</text>
<text transform="translate(393.60,307.55) scale(1.0827,1)" font-size="8.60" text-anchor="end" fill="#262626">0.018</text>
<text transform="translate(393.60,286.64) scale(1.0827,1)" font-size="8.60" text-anchor="end" fill="#262626">0.02</text>
<text transform="translate(397.90,504.70) scale(1.0827,1)" font-size="8.60" text-anchor="middle" fill="#262626">0</text>
<text transform="translate(444.70,504.70) scale(1.0827,1)" font-size="8.60" text-anchor="middle" fill="#262626">1</text>
<text transform="translate(491.50,504.70) scale(1.0827,1)" font-size="8.60" text-anchor="middle" fill="#262626">2</text>
<text transform="translate(538.30,504.70) scale(1.0827,1)" font-size="8.60" text-anchor="middle" fill="#262626">3</text>
<text transform="translate(585.10,504.70) scale(1.0827,1)" font-size="8.60" text-anchor="middle" fill="#262626">4</text>
<text transform="translate(631.90,504.70) scale(1.0827,1)" font-size="8.60" text-anchor="middle" fill="#262626">5</text>
<text transform="translate(678.70,504.70) scale(1.0827,1)" font-size="8.60" text-anchor="middle" fill="#262626">6</text>
<text transform="translate(538.30,278.80)" font-size="9.80" text-anchor="middle" font-weight="bold" fill="#000" textLength="167.00" lengthAdjust="spacingAndGlyphs">Cellular surface-to-volume ratio</text>
<text transform="translate(364.40,388.15) rotate(-90)" font-size="9.60" text-anchor="middle" fill="#262626" textLength="15.00" lengthAdjust="spacingAndGlyphs">pdf</text>
<text transform="translate(506.80,520.50)" font-size="9.60" text-anchor="start" fill="#262626" textLength="14.80" lengthAdjust="spacingAndGlyphs">S/V</text>
<text transform="translate(522.40,524.50)" font-size="7.80" text-anchor="start" fill="#262626" textLength="12.80" lengthAdjust="spacingAndGlyphs">cell</text>
<text transform="translate(539.30,520.50)" font-size="9.60" text-anchor="start" fill="#262626" textLength="3.50" lengthAdjust="spacingAndGlyphs">(</text>
<text transform="translate(542.60,520.50)" font-size="9.60" text-anchor="start" font-style="italic" fill="#262626" textLength="5.60" lengthAdjust="spacingAndGlyphs">μ</text>
<text transform="translate(548.20,520.50)" font-size="9.60" text-anchor="start" fill="#262626" textLength="8.70" lengthAdjust="spacingAndGlyphs">m</text>
<text transform="translate(558.00,517.00)" font-size="7.80" text-anchor="start" fill="#262626" textLength="7.50" lengthAdjust="spacingAndGlyphs">-1</text>
<text transform="translate(566.40,520.50)" font-size="9.60" text-anchor="start" fill="#262626" textLength="3.60" lengthAdjust="spacingAndGlyphs">)</text>
</svg>
</body></html>
